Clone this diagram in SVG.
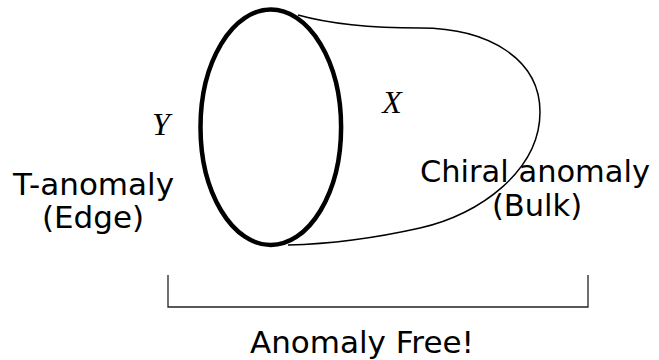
<svg xmlns="http://www.w3.org/2000/svg" width="659" height="360" viewBox="0 0 659 360">
<style>
.lbl{font-family:"DejaVu Sans",Verdana,sans-serif;font-size:31px;fill:#000;text-anchor:middle}
.sm{font-size:30.5px}
.math{font-family:"Liberation Serif","Times New Roman",serif;font-style:italic;font-size:32px;fill:#000;text-anchor:middle}
.thin{fill:none;stroke:#000;stroke-width:1.5}
</style>
<rect width="659" height="360" fill="#fff"/>
<g id="tube">
<path class="thin" d="M298,15 C330,24 370,28 420,28 C490,28 540,60 540,112 C540,170 480,215 420,228 C380,237 330,244 288,245"/>
</g>
<g id="edge-ellipse">
<ellipse cx="270.8" cy="127.3" rx="70.3" ry="117.7" fill="none" stroke="#000" stroke-width="4.5"/>
</g>
<g id="label-Y"><text class="math" x="161" y="135">Y</text></g>
<g id="label-X"><text class="math" x="392" y="113">X</text></g>
<g id="t-anomaly">
<text class="lbl" x="93.5" y="195">T-anomaly</text>
<text class="lbl" x="93" y="228">(Edge)</text>
</g>
<g id="chiral-anomaly">
<text class="lbl sm" x="535" y="182">Chiral anomaly</text>
<text class="lbl sm" x="537" y="216">(Bulk)</text>
</g>
<g id="bracket">
<path d="M168,275 V307 H588 V275" fill="none" stroke="#222" stroke-width="1.3"/>
</g>
<g id="anomaly-free">
<text class="lbl" x="362" y="353">Anomaly Free!</text>
</g>
</svg>
